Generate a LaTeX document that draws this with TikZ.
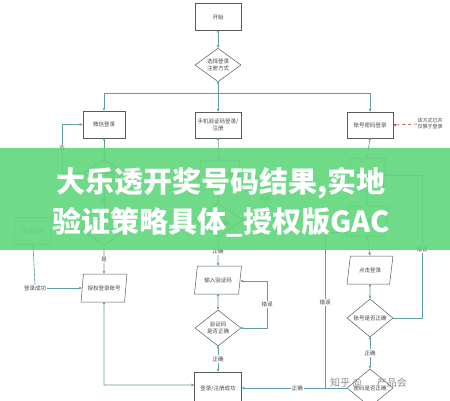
\documentclass[tikz,border=0pt]{standalone}
\usepackage{fontspec}
\newfontfamily\cjk{Noto Sans CJK SC}
\usetikzlibrary{shapes.geometric,arrows.meta}
\definecolor{boxgray}{HTML}{5A5A5A}
\definecolor{txtgray}{HTML}{444444}
\definecolor{lineteal}{HTML}{5F9EA6}
\definecolor{linegreen}{HTML}{4CAF68}
\definecolor{bannergreen}{HTML}{60D67C}
\definecolor{annred}{HTML}{A0302F}
\tikzset{
  lbl/.style={font=\cjk\fontsize{5.5}{6.5}\selectfont, text=txtgray, align=center, inner sep=0.5pt},
  stepbox/.style={lbl, draw=boxgray, line width=0.5pt, rectangle, minimum width=46pt, minimum height=27pt},
  parabox/.style={lbl, draw=boxgray, line width=0.5pt, trapezium, trapezium left angle=72, trapezium right angle=108, trapezium stretches=true, minimum width=46pt, minimum height=28pt},
  decide/.style={lbl, draw=boxgray, line width=0.5pt, diamond, minimum width=48pt, minimum height=30pt, inner sep=0pt},
  conn/.style={draw=lineteal, line width=0.6pt, {Circle[open,length=2.2pt,width=2.2pt,fill=white]}-{Stealth[length=3.2pt,width=2.8pt]}},
  plain/.style={draw=lineteal, line width=0.6pt},
  arr/.style={draw=lineteal, line width=0.6pt, -{Stealth[length=3.2pt,width=2.8pt]}},
  gconn/.style={draw=linegreen, line width=0.6pt, {Circle[open,length=2.2pt,width=2.2pt,fill=white]}-{Stealth[length=3.2pt,width=2.8pt]}},
  edgelbl/.style={lbl, fill=white, inner sep=1pt},
  bannertxt/.style={font=\cjk\bfseries\fontsize{29}{31}\selectfont, text=white, inner sep=0pt}
}
\begin{document}
\begin{tikzpicture}[x=1pt,y=-1pt]
\useasboundingbox (0,0) rectangle (450,400);
\fill[white] (0,0) rectangle (450,400);

% top
\node[stepbox] (start) at (218,17) {开始};
\node[decide, minimum width=46pt, minimum height=28pt] (D0) at (218,65) {选择登录\\注册方式};
\draw[conn] (start.south) -- (D0.north);

% row of boxes
\node[stepbox, minimum width=42pt] (B1) at (104,124.5) {微信登录};
\node[stepbox, minimum height=26pt] (B2) at (218,125) {手机验证码登录/\\注册};
\node[stepbox, minimum height=26pt] (B3) at (370,125) {账号密码登录};
\coordinate (busL) at (104,93);
\coordinate (busR) at (370,93);
\draw[plain] (busL) -- (busR);
\draw[conn] (D0.south) -- (B2.north);
\draw[arr] (busL) -- (B1.north);
\draw[arr] (busR) -- (B3.north);

% annotation
\node[lbl, font=\cjk\fontsize{5}{6}\selectfont, anchor=west] (ann) at (417,124) {该方式已开\\仅限于登录};
\draw[annred, line width=0.6pt, dashed, -{Stealth[length=3pt,width=2.6pt]}] (ann.west) -- (B3.east);

% left column
\node[decide, minimum width=42pt, minimum height=26pt] (D1) at (104,173) {是否授权};
\node[decide, minimum width=46pt, minimum height=30pt] (D2) at (104,230) {是否绑定};
\node[parabox] (P1) at (104,288) {授权登录账号};
\node[parabox, draw=linegreen, text=linegreen, minimum width=40pt, minimum height=27pt] (G1) at (33,231) {登录成功};
\draw[gconn] (B1.south) -- (D1.north);
\draw[arr] (D1.south) -- node[edgelbl] (l1) {是} (D2.north);
\draw[arr] (D2.south) -- node[edgelbl] (l2) {是} (P1.north);
\coordinate (lf1) at (62,173);
\coordinate (lf2) at (62,124.5);
\draw[arr] (D1.west) -- (lf1) -- node[edgelbl] (l3) {否} (lf2) -- (B1.west);
\node[lbl] (succ) at (35,288) {登录成功};
\draw[arr] (succ.north) -- (G1.south);
\draw[arr] (succ.east) -- (P1.west);

% middle column
\node[parabox, minimum width=42pt, minimum height=30pt] (P2) at (219,175) {输入手机号};
\node[decide, minimum width=50pt, minimum height=30pt] (D3) at (218,220) {手机号\\是否正确};
\node[parabox, minimum width=47pt] (P3) at (218,280) {输入验证码};
\node[decide, minimum width=46pt, minimum height=36pt] (D4) at (218,328) {验证码\\是否正确};
\node[stepbox, minimum width=47pt, minimum height=34pt] (B4) at (218,389) {登录/注册成功};
\draw[gconn] (B2.south) -- (P2.north);
\draw[conn] (P2.south) -- (D3.north);
\coordinate (m1) at (265,220);
\coordinate (m2) at (265,177);
\draw[arr] (D3.east) -- (m1) -- node[edgelbl] (l4) {错误} (m2) -- (P2.east |- m2);
\draw[arr] (D3.south) -- node[edgelbl] (l5) {正确} (P3.north);
\draw[conn] (P3.south) -- (D4.north);
\coordinate (m3) at (267,328);
\coordinate (m4) at (267,281);
\draw[conn] (D4.east) -- (m3) -- node[edgelbl] (l6) {错误} (m4) -- (P3.east |- m4);
\draw[conn] (D4.south) -- node[edgelbl] (l7) {正确} (B4.north);
\coordinate (b1) at (104,385);
\draw[conn] (P1.south) -- (b1) -- (B4.west |- b1);

% right column
\node[parabox, minimum width=38pt, minimum height=32pt] (P4) at (367,174) {输入账号};
\node[parabox, minimum width=42pt, minimum height=30pt] (P5) at (367,221) {输入密码};
\node[parabox] (P6) at (370,270) {点击登录};
\node[decide, minimum width=46pt, minimum height=27pt] (D5) at (370,318) {账号是否正确};
\node[decide, minimum width=46pt, minimum height=28pt] (D6) at (370,388) {密码是否正确};
\draw[gconn] (B3.south) -- (P4.north);
\draw[conn] (P4.south) -- (P5.north);
\draw[conn] (P5.south) -- (P6.north);
\draw[conn] (P6.south) -- (D5.north);
\coordinate (r1) at (422,318);
\coordinate (r2) at (422,175);
\draw[arr] (D5.east) -- (r1) -- node[edgelbl, pos=0.48] (l8) {错误} (r2) -- (P4.east |- r2);
\draw[conn] (D5.south) -- node[edgelbl] (l9) {正确} (D6.north);
\coordinate (r3) at (325,388);
\coordinate (r4) at (325,232);
\draw[arr] (D6.west) -- node[edgelbl, pos=0.47] (l10) {正确} (B4.east |- D6.west);
\draw[arr] (r3) -- node[edgelbl, pos=0.55] (l11) {错误} (r4) -- (P5.west |- r4);

% watermark
\node[font=\cjk\fontsize{10}{11}\selectfont, text=black!45, inner sep=0pt, anchor=west] (wm) at (330,383) {知乎 @\,\,\,\,\,\,\,\,\,产品会};

% banner
\fill[bannergreen, opacity=0.9] (0,148) rectangle (450,250);
\node[bannertxt] (t1) at (221,183) {大乐透开奖号码结果,实地};
\node[bannertxt] (t2) at (221,222) {验证策略具体\_授权版GAC};
\end{tikzpicture}
\end{document}
